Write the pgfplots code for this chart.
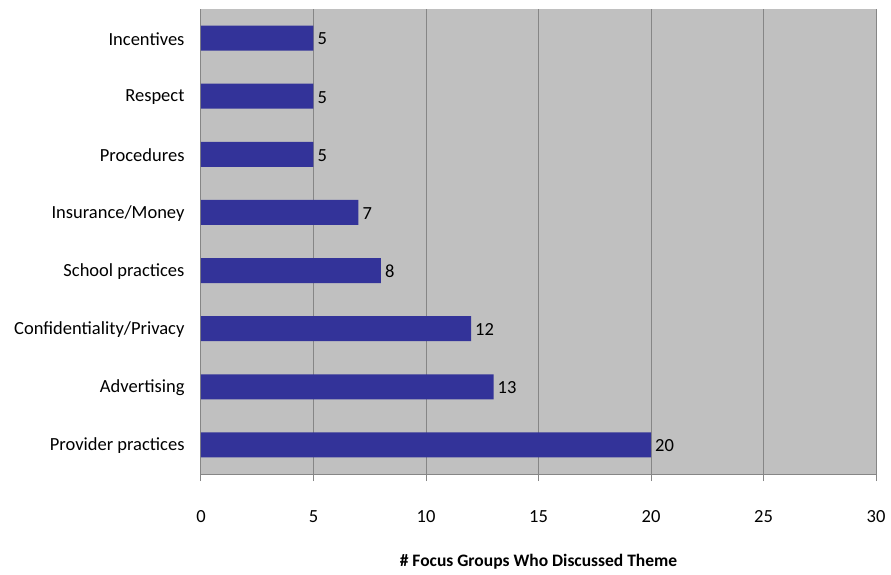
\documentclass[border=0pt]{standalone}
\usepackage{pgfplots}
\pgfplotsset{compat=1.18}
\usepackage{fontspec}
\setmainfont{Carlito}
\definecolor{barblue}{HTML}{333399}
\definecolor{bg}{HTML}{C0C0C0}
\definecolor{gridc}{HTML}{868686}
\begin{document}
\begin{tikzpicture}
\begin{axis}[
 scale only axis, width=675pt, height=465pt,
 xbar, bar width=25pt,
 xmin=0, xmax=30, xtick={0,5,...,30},
 ymin=-0.5, ymax=7.5, ytick={0,...,7},
 yticklabels={Provider practices, Advertising, Confidentiality/Privacy, School practices, Insurance/Money, Procedures, Respect, Incentives},
 axis x line*=bottom, axis y line*=left,
 axis line style={gridc, line width=1pt, -},
 xmajorgrids, grid style={gridc, line width=1pt},
 axis background/.style={fill=bg},
 xtick style={gridc, line width=1pt},
 tick align=outside, major tick length=7pt,
 ytick style={draw=none},
 ticklabel style={font=\fontsize{18.5}{22}\selectfont, text=black},
 yticklabel style={xshift=-6pt, yshift=-1pt},
 xticklabel style={yshift=-26pt},
 /pgf/number format/assume math mode=true,
 xlabel={\textbf{\# Focus Groups Who Discussed Theme}},
 xlabel style={font=\fontsize{17.5}{20}\selectfont, yshift=-25pt},
 nodes near coords,
 nodes near coords style={font=\fontsize{18.5}{22}\selectfont, text=black, anchor=west, inner sep=2pt, xshift=2pt, yshift=-1pt},
]
\addplot[fill=barblue, draw=none] coordinates {(20,0) (13,1) (12,2) (8,3) (7,4) (5,5) (5,6) (5,7)};
\end{axis}
\path (current axis.south west) ++(-201pt,-100pt) rectangle ++(891pt,574pt);
\end{tikzpicture}
\end{document}
